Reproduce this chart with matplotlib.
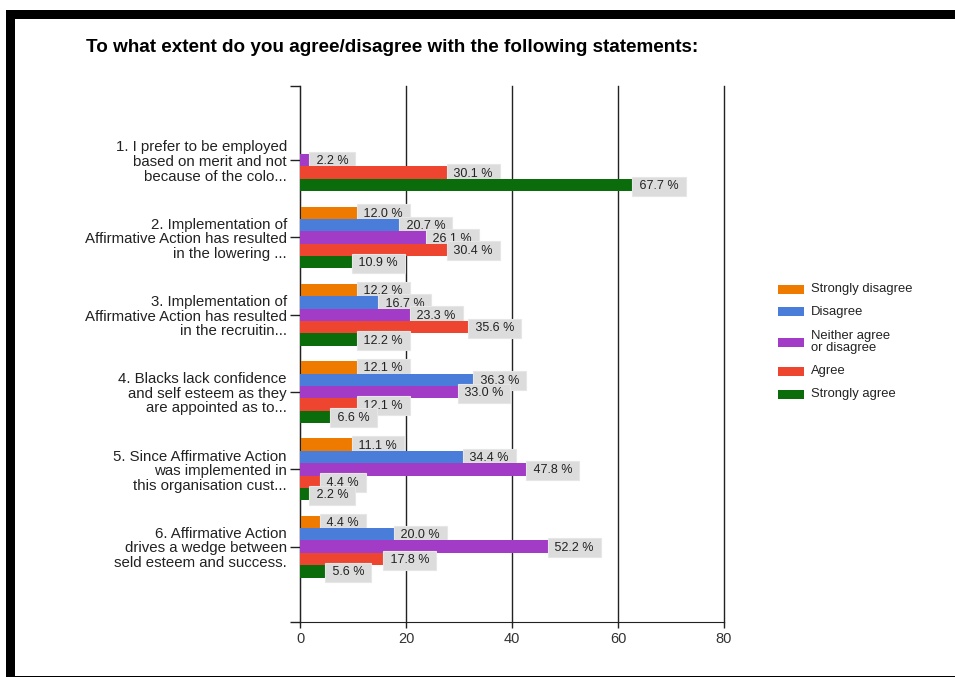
import matplotlib
matplotlib.use("Agg")
import matplotlib.pyplot as plt
from matplotlib.patches import Rectangle

plt.rcParams["font.family"] = ["Liberation Sans", "DejaVu Sans"]

W, H = 955, 677

title = "To what extent do you agree/disagree with the following statements:"
questions = [
    "1. I prefer to be employed\nbased on merit and not\nbecause of the colo...",
    "2. Implementation of\nAffirmative Action has resulted\nin the lowering ...",
    "3. Implementation of\nAffirmative Action has resulted\nin the recruitin...",
    "4. Blacks lack confidence\nand self esteem as they\nare appointed as to...",
    "5. Since Affirmative Action\nwas implemented in\nthis organisation cust...",
    "6. Affirmative Action\ndrives a wedge between\nseld esteem and success.",
]
series = ["Strongly disagree", "Disagree", "Neither agree\nor disagree", "Agree", "Strongly agree"]
colors = ["#EF7A00", "#4A7DDA", "#A23BC6", "#EE4530", "#0B6C0B"]

# bar lengths are response counts, labels are percentages
strongly_disagree = [0, 11, 11, 11, 10, 4]
disagree          = [0, 19, 15, 33, 31, 18]
neither           = [2, 24, 21, 30, 43, 47]
agree             = [28, 28, 32, 11, 4, 16]
strongly_agree    = [63, 10, 11, 6, 2, 5]

pct_sd = [None, "12.0", "12.2", "12.1", "11.1", "4.4"]
pct_d  = [None, "20.7", "16.7", "36.3", "34.4", "20.0"]
pct_n  = ["2.2", "26.1", "23.3", "33.0", "47.8", "52.2"]
pct_a  = ["30.1", "30.4", "35.6", "12.1", "4.4", "17.8"]
pct_sa = ["67.7", "10.9", "12.2", "6.6", "2.2", "5.6"]

counts = [strongly_disagree, disagree, neither, agree, strongly_agree]
pcts = [pct_sd, pct_d, pct_n, pct_a, pct_sa]

fig = plt.figure(figsize=(W / 100, H / 100), dpi=100)
ax = fig.add_axes([300 / W, 1 - 622 / H, 424 / W, 536 / H])

h = 0.16
for i, (vals, labs) in enumerate(zip(counts, pcts)):
    ys = [q + (i - 2) * h for q in range(len(questions))]
    ax.barh(ys, vals, height=h, color=colors[i], linewidth=0, zorder=2 + 2 * i)
    for y, v, lab in zip(ys, vals, labs):
        if lab is None:
            continue
        ax.annotate(f" {lab} % ", (v, y), xytext=(1.5, -0.8), textcoords="offset points",
                    ha="left", va="center", fontsize=9, color="#222222",
                    bbox=dict(boxstyle="square,pad=0.28", fc="#dcdcdc", ec="#e6e6e6", lw=0.8),
                    zorder=3 + 2 * i)

ax.set_xlim(0, 80)
ax.set_ylim(5.975, -0.96)
ax.set_xticks([0, 20, 40, 60, 80])
ax.set_yticks(range(len(questions)))
ax.set_yticklabels(questions, fontsize=10.8, color="#222222", linespacing=1.05)
ax.set_yticks([5.975, -0.96], minor=True)
ax.tick_params(axis="y", which="both", length=7.5, width=1, color="#222222", pad=2)
ax.tick_params(axis="x", length=4, width=1, color="#222222", labelsize=10.5, labelcolor="#333333", pad=3)
ax.grid(axis="x", color="#222222", linewidth=1, zorder=1)
for gl in ax.get_xgridlines():
    gl.set_clip_on(False)
ax.set_axisbelow(True)
for s in ["top", "right"]:
    ax.spines[s].set_visible(False)
ax.spines["left"].set_color("#222222")
ax.spines["bottom"].set_color("#222222")

fig.text(86 / W, 1 - 48 / H, title, fontsize=13.6, fontweight="bold", color="black",
         ha="left", va="center")

# legend
leg_y = [289, 312, 342, 371, 394]
for c, lab, y in zip(colors, series, leg_y):
    fig.add_artist(Rectangle((778 / W, 1 - (y + 4.5) / H), 26 / W, 9 / H,
                             transform=fig.transFigure, fc=c, ec="none"))
    fig.text(811 / W, 1 - y / H, lab, fontsize=9.4, color="#222222", ha="left", va="center",
             linespacing=1.0)

# frame around the screenshot
fig.add_artist(Rectangle((6 / W, 1 - 676 / H), 9 / W, 666 / H, transform=fig.transFigure,
                         fc="black", ec="none"))
fig.add_artist(Rectangle((6 / W, 1 - 19 / H), 949 / W, 9 / H, transform=fig.transFigure,
                         fc="black", ec="none"))
fig.add_artist(Rectangle((6 / W, 1 - 677 / H), 949 / W, 1.5 / H, transform=fig.transFigure,
                         fc="black", ec="none"))

fig.savefig("out.png", dpi=100)
